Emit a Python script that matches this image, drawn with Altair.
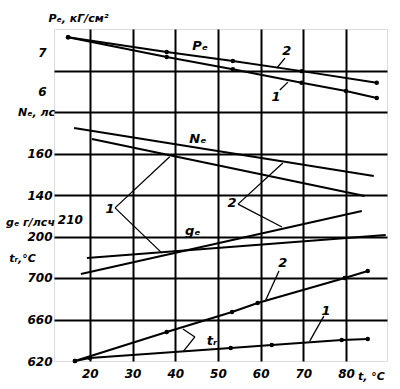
import altair as alt
import pandas as pd

FONT = "DejaVu Sans"

# ---- data (x = t, °C) ----
p1_x = [14.9, 38.0, 53.5, 69.6, 80.0, 87.2]
p1_y = [7.38, 6.87, 6.56, 6.21, 6.00, 5.82]
p2_x = [14.9, 38.0, 53.5, 69.6, 87.2]
p2_y = [7.38, 7.00, 6.77, 6.51, 6.21]

n1_x = [20.5, 84.4]
n1_y = [166.7, 139.5]
n2_x = [16.3, 86.5]
n2_y = [171.9, 149.0]

g1_x = [19.3, 89.3]
g1_y = [187.6, 201.2]
g2_x = [17.9, 83.7]
g2_y = [178.2, 215.3]

t1_x = [16.5, 20.0, 53.0, 62.6, 79.0, 85.1]
t1_y = [620, 622.9, 632.4, 635.2, 640.0, 641.0]
t2_x = [16.5, 38.0, 53.3, 59.3, 79.7, 85.1]
t2_y = [620, 647.6, 666.7, 675.2, 699.0, 705.7]

x_ticks = [20, 30, 40, 50, 60, 70, 80]
p_ticks = [6, 7]
n_ticks = [140, 160]
g_ticks = [200]
g_extra_label = [210]
t_ticks = [620, 660, 700]

# annotation texts (x in °C, y in grid units 0..8)
ann_text = ["Pₑ", "2", "1", "Nₑ", "1", "2", "gₑ", "2", "1", "tᵣ"]
ann_x = [45.8, 66.1, 63.6, 45.3, 24.7, 53.3, 44.1, 65.2, 75.3, 48.6]
ann_y = [7.59, 7.47, 6.36, 5.35, 3.66, 3.81, 3.13, 2.36, 1.20, 0.48]

# leader lines
lead_x = [65.7, 64.5, 25.9, 25.9, 54.7, 54.7, 64.3, 74.8, 44.6, 44.6]
lead_y = [7.30, 6.53, 3.69, 3.69, 3.78, 3.78, 2.17, 1.08, 0.58, 0.58]
lead_x2 = [63.8, 66.4, 38.7, 36.9, 65.2, 65.0, 61.2, 71.5, 41.8, 41.8]
lead_y2 = [7.06, 6.72, 4.92, 2.60, 4.77, 3.23, 1.47, 0.48, 0.77, 0.22]


def frame(xs1, ys1, xs2, ys2):
    return pd.DataFrame({
        "x": xs1 + xs2,
        "y": ys1 + ys2,
        "curve": ["1"] * len(xs1) + ["2"] * len(xs2),
    })


label_style = dict(labelFont=FONT, labelFontSize=12, labelFontStyle="italic",
                   labelFontWeight="bold", labelColor="black")
title_style = dict(titleFont=FONT, titleFontSize=11, titleFontStyle="italic",
                   titleFontWeight="bold", titleColor="black", titleAngle=0,
                   titleAlign="center", titleBaseline="middle")

X = alt.X("x:Q", scale=alt.Scale(domain=[11.6, 89.6], nice=False, zero=False),
          axis=alt.Axis(values=x_ticks, grid=True, gridColor="black", gridWidth=2,
                        domain=False, ticks=False, labelPadding=7,
                        title="t, °C", titleX=317, titleY=15, **label_style,
                        **title_style))


def quantity(df, domain, ticks, title, tx, ty, pad, points=True, extra=None):
    Y = alt.Y("y:Q", scale=alt.Scale(domain=domain, nice=False, zero=False),
              axis=alt.Axis(orient="left", values=ticks, grid=False, domain=False,
                            ticks=False, labelPadding=pad, title=title,
                            titleX=tx, titleY=ty, **label_style, **title_style))
    base = alt.Chart(df)
    layers = [base.mark_line(color="black", strokeWidth=2).encode(x=X, y=Y, detail="curve:N")]
    if points:
        layers.append(base.mark_circle(color="black", size=20, opacity=1).encode(x=X, y=Y))
    if extra is not None:
        layers.append(alt.Chart(extra).mark_text(
            font=FONT, fontSize=12, fontStyle="italic", fontWeight="bold",
            align="left", baseline="middle", color="black").encode(
            x=X, y=Y, text="label:N"))
    return alt.layer(*layers)


p_layer = quantity(frame(p1_x, p1_y, p2_x, p2_y), [-0.92, 7.59], p_ticks,
                   "Pₑ, кГ/см²", 24, -11, 8)
n_layer = quantity(frame(n1_x, n1_y, n2_x, n2_y), [60.95, 219.05], n_ticks,
                   "Nₑ, лс", -18, 83, 2, points=False)
g_extra = pd.DataFrame({"x": [12.5], "y": g_extra_label,
                        "label": [str(v) for v in g_extra_label]})
g_layer = quantity(frame(g1_x, g1_y, g2_x, g2_y), [127.06, 322.35], g_ticks,
                   "gₑ г/лсч", -24, 193, 2, points=False, extra=g_extra)
t_layer = quantity(frame(t1_x, t1_y, t2_x, t2_y), [620, 936.2], t_ticks,
                   "tᵣ,°C", -32, 229, 2)

GY = alt.Y("y:Q", scale=alt.Scale(domain=[0, 8], nice=False, zero=False),
           axis=alt.Axis(orient="left", values=[1, 2, 3, 4, 5, 6, 7], grid=True,
                         gridColor="black", gridWidth=2, labels=False, ticks=False,
                         domain=False, title=None))

lead_df = pd.DataFrame({"x": lead_x, "y": lead_y, "x2": lead_x2, "y2": lead_y2})
text_df = pd.DataFrame({"x": ann_x, "y": ann_y, "label": ann_text})

ann_layer = alt.layer(
    alt.Chart(lead_df).mark_rule(color="black", strokeWidth=1.3).encode(
        x=X, y=GY, x2="x2:Q", y2="y2:Q"),
    alt.Chart(text_df).mark_text(font=FONT, fontSize=13, fontStyle="italic",
                                 fontWeight="bold", color="black",
                                 baseline="middle").encode(
        x=X, y=GY, text="label:N"),
)

chart = alt.layer(ann_layer, p_layer, n_layer, g_layer, t_layer).resolve_scale(
    y="independent"
).properties(
    width=333, height=332,
    autosize=alt.AutoSizeParams(type="none"),
    padding={"left": 54, "top": 29, "right": 13, "bottom": 28},
).configure_view(stroke="black", strokeWidth=2.5).configure(background="white")

chart.save("out.html", embed_options={"renderer": "svg", "actions": False})
